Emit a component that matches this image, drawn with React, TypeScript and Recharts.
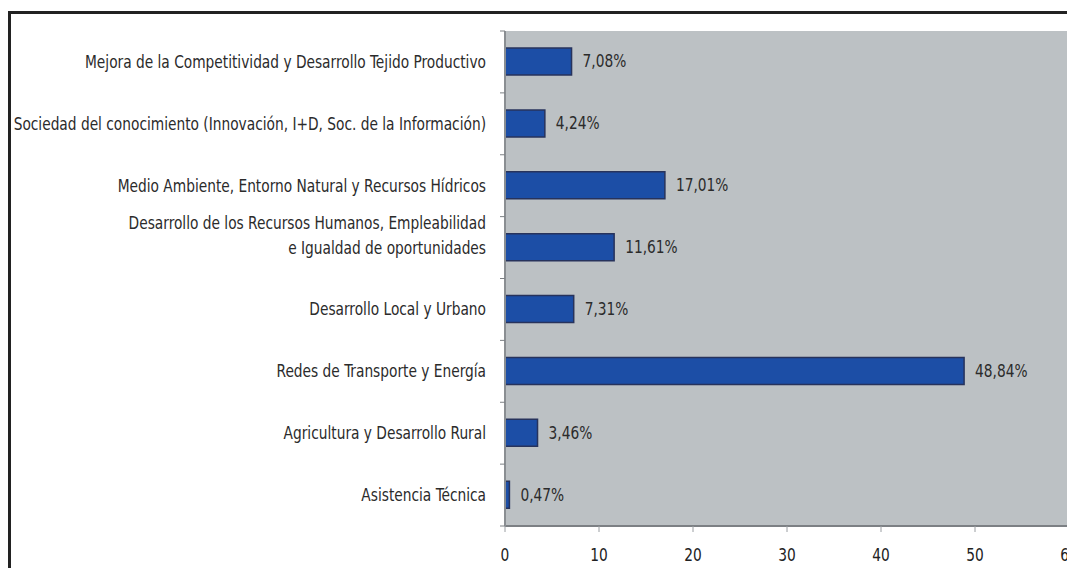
import { BarChart, Bar, XAxis, YAxis, CartesianGrid, LabelList } from "recharts";

const categories = [
	"Mejora de la Competitividad y Desarrollo Tejido Productivo",
	"Sociedad del conocimiento (Innovación, I+D, Soc. de la Información)",
	"Medio Ambiente, Entorno Natural y Recursos Hídricos",
	"Desarrollo de los Recursos Humanos, Empleabilidad\ne Igualdad de oportunidades",
	"Desarrollo Local y Urbano",
	"Redes de Transporte y Energía",
	"Agricultura y Desarrollo Rural",
	"Asistencia Técnica",
];

const shares = [7.08, 4.24, 17.01, 11.61, 7.31, 48.84, 3.46, 0.47];

const xTicks = [0, 10, 20, 30, 40, 50, 60];

const data = categories.map((name, i) => ({ name, value: shares[i] }));

const FONT = "'DejaVu Sans Condensed', 'Liberation Sans Narrow', sans-serif";
const BAND = 495 / categories.length;
const SQUEEZE = 0.9;

const CategoryTick = (props: any) => {
	const { x, y, payload, index } = props;
	const lines = String(payload.value).split("\n");
	const axisX = x + 8;
	return (
		<g>
			<line x1={axisX - 5} x2={axisX} y1={y - BAND / 2} y2={y - BAND / 2} stroke="#7c8084" />
			{index === categories.length - 1 && (
				<line x1={axisX - 5} x2={axisX} y1={y + BAND / 2} y2={y + BAND / 2} stroke="#7c8084" />
			)}
			<g transform={`translate(${x - 11},${y}) scale(${SQUEEZE},1)`}>
				<text x={0} y={0} textAnchor="end" fontFamily={FONT} fontSize={17} fill="#2b2b2b">
					{lines.map((l, i) => (
						<tspan key={i} x={0} dy={i === 0 ? (lines.length - 1) * -25 + 6 : 25}>
							{l}
						</tspan>
					))}
				</text>
			</g>
		</g>
	);
};

const NumberTick = (props: any) => {
	const { x, y, payload } = props;
	return (
		<g transform={`translate(${x},${y}) scale(${SQUEEZE},1)`}>
			<text x={0} y={0} dy="0.71em" textAnchor="middle" fontFamily={FONT} fontSize={17} fill="#222">
				{payload.value}
			</text>
		</g>
	);
};

const ValueLabel = (props: any) => {
	const { x, y, width, height, value } = props;
	const tx = x + width + 11;
	const ty = y + height / 2;
	return (
		<g transform={`translate(${tx},${ty}) scale(${SQUEEZE},1)`}>
			<text x={0} y={0} dy="0.35em" textAnchor="start" fontFamily={FONT} fontSize={17} fill="#2b2b2b">
				{Number(value).toFixed(2).replace(".", ",") + "%"}
			</text>
		</g>
	);
};

const App = () => {
	return (
		<div style={{ position: "relative", width: 1067, height: 560, overflow: "hidden", background: "#fff" }}>
			<div
				style={{
					position: "absolute",
					left: 0,
					top: 3,
					width: 1200,
					height: 1000,
					border: "3px solid #222",
					boxSizing: "border-box",
				}}
			/>
			<div style={{ position: "absolute", left: 0, top: 0 }}>
				<BarChart
					layout="vertical"
					data={data}
					width={1067}
					height={560}
					margin={{ top: 23, right: 6, left: 0, bottom: 12 }}
				>
					<CartesianGrid horizontal={false} vertical={false} fill="#bcc1c4" stroke="none" />
					<XAxis
						type="number"
						domain={[0, 60]}
						ticks={xTicks}
						interval={0}
						height={30}
						tickSize={6}
						tickMargin={17}
						axisLine={{ stroke: "#7c8084", strokeWidth: 2 }}
						tickLine={{ stroke: "#9a9ea2" }}
						tick={<NumberTick />}
					/>
					<YAxis
						type="category"
						dataKey="name"
						width={497}
						interval={0}
						axisLine={{ stroke: "#8a8e92", strokeWidth: 2 }}
						tickLine={false}
						tick={<CategoryTick />}
					/>
					<Bar
						dataKey="value"
						barSize={27}
						fill="#1c4ea6"
						stroke="#27335c"
						strokeWidth={1.5}
						isAnimationActive={false}
					>
						<LabelList dataKey="value" content={<ValueLabel />} />
					</Bar>
				</BarChart>
			</div>
		</div>
	);
};

export default App;
